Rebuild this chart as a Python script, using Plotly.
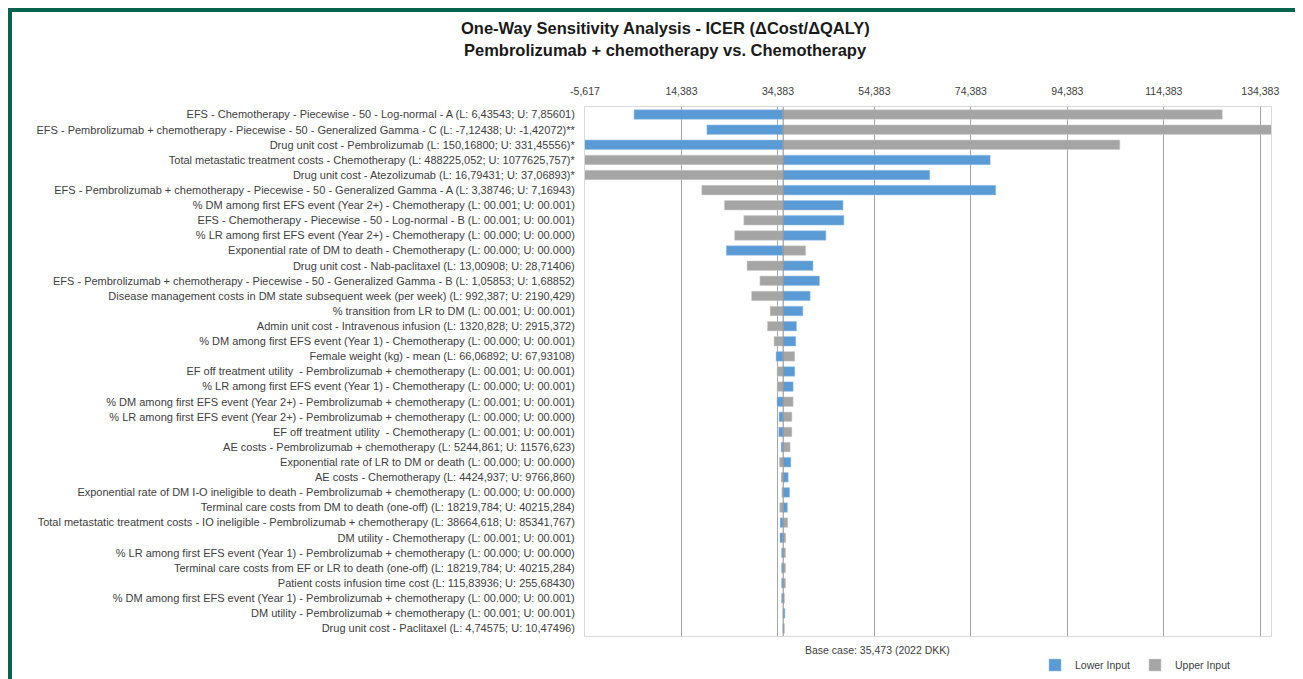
import plotly.graph_objects as go

# Data
base_case = 35473

params = [
    'EFS - Chemotherapy - Piecewise - 50 - Log-normal - A (L: 6,43543; U: 7,85601)',
    'EFS - Pembrolizumab + chemotherapy - Piecewise - 50 - Generalized Gamma - C (L: -7,12438; U: -1,42072)**',
    'Drug unit cost - Pembrolizumab (L: 150,16800; U: 331,45556)*',
    'Total metastatic treatment costs - Chemotherapy (L: 488225,052; U: 1077625,757)*',
    'Drug unit cost - Atezolizumab (L: 16,79431; U: 37,06893)*',
    'EFS - Pembrolizumab + chemotherapy - Piecewise - 50 - Generalized Gamma - A (L: 3,38746; U: 7,16943)',
    '% DM among first EFS event (Year 2+) - Chemotherapy (L: 00.001; U: 00.001)',
    'EFS - Chemotherapy - Piecewise - 50 - Log-normal - B (L: 00.001; U: 00.001)',
    '% LR among first EFS event (Year 2+) - Chemotherapy (L: 00.000; U: 00.000)',
    'Exponential rate of DM to death - Chemotherapy (L: 00.000; U: 00.000)',
    'Drug unit cost - Nab-paclitaxel (L: 13,00908; U: 28,71406)',
    'EFS - Pembrolizumab + chemotherapy - Piecewise - 50 - Generalized Gamma - B (L: 1,05853; U: 1,68852)',
    'Disease management costs in DM state subsequent week (per week) (L: 992,387; U: 2190,429)',
    '% transition from LR to DM (L: 00.001; U: 00.001)',
    'Admin unit cost - Intravenous infusion (L: 1320,828; U: 2915,372)',
    '% DM among first EFS event (Year 1) - Chemotherapy (L: 00.000; U: 00.001)',
    'Female weight (kg) - mean (L: 66,06892; U: 67,93108)',
    'EF off treatment utility  - Pembrolizumab + chemotherapy (L: 00.001; U: 00.001)',
    '% LR among first EFS event (Year 1) - Chemotherapy (L: 00.000; U: 00.001)',
    '% DM among first EFS event (Year 2+) - Pembrolizumab + chemotherapy (L: 00.001; U: 00.001)',
    '% LR among first EFS event (Year 2+) - Pembrolizumab + chemotherapy (L: 00.000; U: 00.000)',
    'EF off treatment utility  - Chemotherapy (L: 00.001; U: 00.001)',
    'AE costs - Pembrolizumab + chemotherapy (L: 5244,861; U: 11576,623)',
    'Exponential rate of LR to DM or death (L: 00.000; U: 00.000)',
    'AE costs - Chemotherapy (L: 4424,937; U: 9766,860)',
    'Exponential rate of DM I-O ineligible to death - Pembrolizumab + chemotherapy (L: 00.000; U: 00.000)',
    'Terminal care costs from DM to death (one-off) (L: 18219,784; U: 40215,284)',
    'Total metastatic treatment costs - IO ineligible - Pembrolizumab + chemotherapy (L: 38664,618; U: 85341,767)',
    'DM utility - Chemotherapy (L: 00.001; U: 00.001)',
    '% LR among first EFS event (Year 1) - Pembrolizumab + chemotherapy (L: 00.000; U: 00.000)',
    'Terminal care costs from EF or LR to death (one-off) (L: 18219,784; U: 40215,284)',
    'Patient costs infusion time cost (L: 115,83936; U: 255,68430)',
    '% DM among first EFS event (Year 1) - Pembrolizumab + chemotherapy (L: 00.000; U: 00.001)',
    'DM utility - Pembrolizumab + chemotherapy (L: 00.001; U: 00.001)',
    'Drug unit cost - Paclitaxel (L: 4,74575; U: 10,47496)',
]

# ICER at lower / upper input value
icer_lower = [4549, 19653, -15000, 78389, 65857, 79530, 47870, 48057, 44321, 23677,
              41645, 42993, 41063, 39549, 38222, 38077, 33990, 37870, 37538, 34197,
              34612, 34550, 35032, 37060, 36500, 36799, 36343, 34840, 34800, 35140,
              35140, 35140, 35140, 35820, 35473]
icer_upper = [126500, 145000, 105255, -15000, -15000, 18595, 23283, 27309, 25400, 40130,
              27972, 30649, 28926, 32765, 32205, 33575, 37870, 34197, 34197, 37538,
              37267, 37267, 36914, 34695, 35032, 35202, 34750, 36410, 36000, 35970,
              35970, 35970, 35760, 35473, 35770]

tick_vals = [-5617, 14383, 34383, 54383, 74383, 94383, 114383, 134383]
tick_text = ['-5,617', '14,383', '34,383', '54,383', '74,383', '94,383', '114,383', '134,383']

fig = go.Figure()
fig.add_trace(go.Bar(y=params, x=[v - base_case for v in icer_lower], base=base_case,
                     orientation='h', name='Lower Input',
                     marker=dict(color='#5b9bd5', line=dict(color='#9dc3e6', width=0.5))))
fig.add_trace(go.Bar(y=params, x=[v - base_case for v in icer_upper], base=base_case,
                     orientation='h', name='Upper Input',
                     marker=dict(color='#a5a5a5', line=dict(color='#cfcfcf', width=0.5))))

# page body adds 8px, so the figure is 8px smaller than the window
fig.update_layout(
    width=1295, height=671,
    margin=dict(l=577, r=32, t=99, b=43, autoexpand=False),
    paper_bgcolor='white', plot_bgcolor='white',
    barmode='overlay', bargap=0.37,
    font=dict(family='Liberation Sans', size=11, color='#404040'),
    legend=dict(orientation='h', x=0.656, y=-0.055, xanchor='left', yanchor='middle',
                font=dict(size=10.5, color='#404040'), traceorder='normal',
                entrywidth=55, itemwidth=30),
    hovermode=False,
)
fig.update_xaxes(side='top', range=[-5617, 136600], tickvals=tick_vals, ticktext=tick_text,
                 showgrid=True, gridcolor='#a6a6a6', gridwidth=1, zeroline=False,
                 showline=True, mirror=True, linecolor='#d9d9d9', linewidth=1,
                 ticks='', ticklabelstandoff=7, tickfont=dict(size=10.5, color='#404040'))
fig.update_yaxes(type='category', categoryorder='array', categoryarray=params,
                 autorange='reversed', showgrid=False, zeroline=False,
                 showline=True, mirror=True, linecolor='#d9d9d9', linewidth=1,
                 ticks='', ticklabelstandoff=7, tickfont=dict(size=11, color='#404040'))

# base case line
fig.add_shape(type='line', xref='x', yref='paper', x0=base_case, x1=base_case, y0=0, y1=1,
              line=dict(color='#8c8c8c', width=1))

# title
fig.add_annotation(text='<b>One-Way Sensitivity Analysis - ICER (\u0394Cost/\u0394QALY)</b>',
                   xref='paper', yref='paper', x=0.118, y=1, xanchor='center', yanchor='middle',
                   yshift=79, showarrow=False, font=dict(size=16.5, color='#1a1a1a'))
fig.add_annotation(text='<b>Pembrolizumab + chemotherapy vs. Chemotherapy</b>',
                   xref='paper', yref='paper', x=0.118, y=1, xanchor='center', yanchor='middle',
                   yshift=57, showarrow=False, font=dict(size=16.5, color='#1a1a1a'))
fig.add_annotation(text='Base case: 35,473 (2022 DKK)', xref='paper', yref='paper',
                   x=0.427, y=0, xanchor='center', yanchor='middle', yshift=-14,
                   showarrow=False, font=dict(size=10.5, color='#404040'))

# green chart border (left, top, right)
border = '#07654f'
fig.add_shape(type='rect', xref='paper', yref='paper', x0=-577 / 686, x1=-573 / 686,
              y0=-43 / 529, y1=(529 + 99) / 529, fillcolor=border, line=dict(width=0), layer='above')
fig.add_shape(type='rect', xref='paper', yref='paper', x0=-577 / 686, x1=(686 + 32) / 686,
              y0=(529 + 95) / 529, y1=(529 + 99) / 529, fillcolor=border, line=dict(width=0), layer='above')
fig.add_shape(type='rect', xref='paper', yref='paper', x0=(686 + 26) / 686, x1=(686 + 32) / 686,
              y0=-43 / 529, y1=(529 + 99) / 529, fillcolor=border, line=dict(width=0), layer='above')

fig.write_html('out.html')
